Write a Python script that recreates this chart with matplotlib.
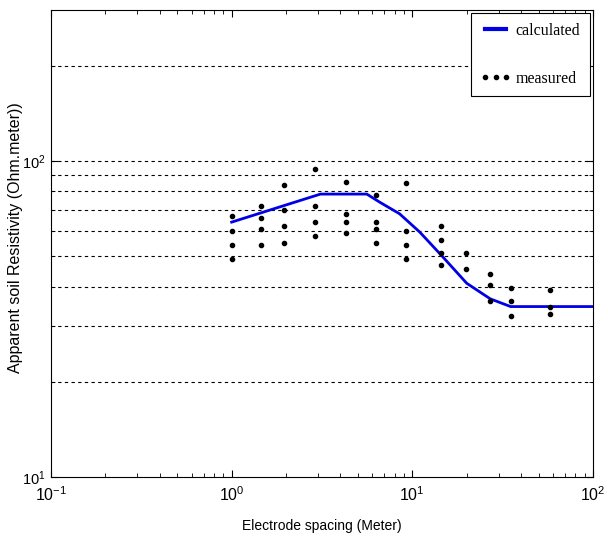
import matplotlib.pyplot as plt
import numpy as np

plt.rcParams['mathtext.fontset'] = 'custom'
plt.rcParams['mathtext.rm'] = 'Liberation Sans'
plt.rcParams['mathtext.it'] = 'Liberation Sans'
plt.rcParams['mathtext.default'] = 'regular'
plt.rcParams['font.family'] = 'Liberation Sans'

# Measured apparent resistivity (several readings per electrode spacing)
spacing = [1.0, 1.45, 1.95, 2.9, 4.3, 6.3, 9.2, 14.5, 19.8, 26.9, 35.0, 58.0]
measured = [
    [67, 60, 54, 49],
    [72, 66, 61, 54],
    [84, 70, 62, 55],
    [94, 72, 64, 58],
    [86, 68, 64, 59],
    [78, 64, 61, 55],
    [85, 60, 54, 49],
    [62, 56, 51, 47],
    [51, 45.5],
    [44, 40.5, 36],
    [39.5, 36, 32.2],
    [39, 34.5, 32.8],
]

# Calculated curve
calc_x = [1.0, 3.1, 5.6, 6.6, 8.5, 11.0, 14.6, 20.0, 27.0, 35.0, 100.0]
calc_y = [64, 78.5, 78.5, 74, 68, 59.5, 50, 41, 36.6, 34.6, 34.6]

grid_levels = [20, 30, 40, 50, 60, 70, 80, 90, 100, 200]

fig = plt.figure(figsize=(6.08, 5.38), dpi=100)
ax = fig.add_axes([0.0839, 0.1134, 0.8914, 0.868])

for g in grid_levels:
    ax.axhline(g, color='black', linestyle=(0, (3, 3)), linewidth=0.8, zorder=1)

ax.plot(calc_x, calc_y, color='#0000e6', linewidth=2, label='calculated', zorder=3)

mx = [x for x, ys in zip(spacing, measured) for _ in ys]
my = [y for ys in measured for y in ys]
ax.plot(mx, my, linestyle='none', marker='o', markersize=3, color='black',
        label='measured', zorder=4)

ax.set_xscale('log')
ax.set_yscale('log')
ax.set_xlim(0.1, 100)
ax.set_ylim(10, 300)
ax.set_xticks([0.1, 1, 10, 100])
ax.set_xticklabels([r'$10^{-1}$', r'$10^{0}$', r'$10^{1}$', r'$10^{2}$'])
ax.set_yticks([10, 100])
ax.set_yticklabels([r'$10^{1}$', r'$10^{2}$'])
ax.tick_params(which='both', direction='in', top=True, right=True)
ax.tick_params(which='major', length=5)
ax.tick_params(which='minor', length=3)
ax.tick_params(axis='x', pad=6, labelsize=11.5)
ax.tick_params(axis='y', pad=4, labelsize=10.5)
ax.yaxis.set_minor_formatter(plt.NullFormatter())

ax.set_xlabel('Electrode spacing (Meter)', fontsize=10, labelpad=11)
ax.set_ylabel('Apparent soil Resistivity (Ohm.meter))', fontsize=11.5)
ax.yaxis.set_label_coords(-0.052, 0.512)

leg = ax.legend(loc='upper right', numpoints=3, labelspacing=2.0, handlelength=1.9,
                handletextpad=0.3, borderpad=0.6, borderaxespad=0, fancybox=False,
                framealpha=1, edgecolor='black',
                prop={'family': 'Liberation Serif', 'size': 11.5},
                bbox_to_anchor=(0.9945, 0.9936))
leg.get_lines()[0].set_linewidth(3)
leg.get_frame().set_linewidth(0.8)

for s in ax.spines.values():
    s.set_linewidth(0.8)

fig.savefig('out.png', dpi=100)
